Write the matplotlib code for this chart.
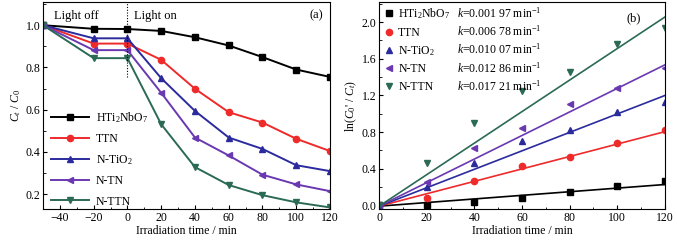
import numpy as np
import matplotlib
matplotlib.use("Agg")
import matplotlib.pyplot as plt
from matplotlib.ticker import MultipleLocator

plt.rcParams['font.family'] = ['Liberation Serif', 'DejaVu Serif']
plt.rcParams['mathtext.fontset'] = 'custom'
plt.rcParams['mathtext.rm'] = 'Liberation Serif'
plt.rcParams['mathtext.it'] = 'Liberation Serif:italic'
plt.rcParams['font.size'] = 8.5

# ========================
# data
# ========================
names = ["HTi$_2$NbO$_7$", "TTN", "N-TiO$_2$", "N-TN", "N-TTN"]
colors = ["#000000", "#ee2a2a", "#2b2b9e", "#6a38b0", "#2b6a55"]
markers_a = ["s", "o", "^", "<", "v"]

# (a) Ct/C0 vs time
t_a = [-50, -20, 0, 20, 40, 60, 80, 100, 120]
c_hti = [1.0, 0.983, 0.982, 0.973, 0.943, 0.904, 0.849, 0.790, 0.755]
c_ttn = [1.0, 0.913, 0.913, 0.836, 0.699, 0.588, 0.539, 0.462, 0.404]
c_ntio2 = [1.0, 0.938, 0.938, 0.749, 0.594, 0.468, 0.414, 0.337, 0.309]
c_ntn = [1.0, 0.882, 0.882, 0.680, 0.468, 0.383, 0.292, 0.246, 0.214]
c_nttn = [1.0, 0.844, 0.844, 0.531, 0.328, 0.243, 0.195, 0.161, 0.137]
series_a = [c_hti, c_ttn, c_ntio2, c_ntn, c_nttn]

# (b) ln(C0'/Ct) vs time
t_b = [0, 20, 40, 60, 80, 100, 120]
l_hti = [0.0, 0.0, 0.04, 0.08, 0.14, 0.21, 0.26]
l_ttn = [0.0, 0.08, 0.26, 0.43, 0.53, 0.68, 0.82]
l_ntio2 = [0.0, 0.20, 0.46, 0.70, 0.82, 1.02, 1.13]
l_ntn = [0.0, 0.25, 0.63, 0.84, 1.11, 1.28, 1.50]
l_nttn = [0.0, 0.46, 0.90, 1.25, 1.46, 1.76, 1.94]
series_b = [l_hti, l_ttn, l_ntio2, l_ntn, l_nttn]
k_vals = [0.00197, 0.00678, 0.01007, 0.01286, 0.01721]
k_labels = ["0.001 97", "0.006 78", "0.010 07", "0.012 86", "0.017 21"]

fig = plt.figure(figsize=(6.77, 2.49), dpi=100)
ax1 = fig.add_axes([0.0635, 0.161, 0.424, 0.831])
ax2 = fig.add_axes([0.560, 0.161, 0.422, 0.831])

# ---- panel (a)
for ys, nm, col, mk in zip(series_a, names, colors, markers_a):
    ax1.plot(t_a, ys, color=col, marker=mk, markersize=4.5, linewidth=1.4, label=nm)
ax1.plot([0, 0], [0.755, 1.12], color="black", linestyle=(0, (1, 1.5)), linewidth=0.8)
ax1.text(-30, 1.046, "Light off", ha="center", va="center", fontsize=9)
ax1.text(4, 1.046, "Light on", ha="left", va="center", fontsize=9)
ax1.text(112, 1.046, "(a)", ha="center", va="center", fontsize=9)
ax1.set_xlim(-50, 120)
ax1.set_ylim(0.13, 1.11)
ax1.xaxis.set_major_locator(MultipleLocator(20))
ax1.xaxis.set_minor_locator(MultipleLocator(10))
ax1.yaxis.set_major_locator(MultipleLocator(0.2))
ax1.yaxis.set_minor_locator(MultipleLocator(0.1))
ax1.set_xlabel("Irradiation time / min", labelpad=1)
ax1.set_ylabel("$C_t$ / $C_0$", labelpad=2)
ax1.legend(loc="lower left", bbox_to_anchor=(-0.01, -0.045), frameon=False,
           handlelength=3.2, handletextpad=0.6, labelspacing=0.7, fontsize=8.5)

# ---- panel (b)
tl = np.array([0, 120])
for ys, nm, col, mk, k in zip(series_b, names, colors, markers_a, k_vals):
    ax2.plot(t_b, ys, linestyle="none", marker=mk, markersize=4.5, color=col, label=nm)
    ax2.plot(tl, k * tl - 0.01, color=col, linewidth=1.2)
for i, kl in enumerate(k_labels):
    ax2.text(0.273, 0.947 - i * 0.0884, "$k$=" + kl + " min$^{-1}$",
             transform=ax2.transAxes, ha="left", va="center")
ax2.text(107, 2.04, "(b)", ha="center", va="center", fontsize=9)
ax2.set_xlim(0, 120)
ax2.set_ylim(-0.04, 2.22)
ax2.xaxis.set_major_locator(MultipleLocator(20))
ax2.xaxis.set_minor_locator(MultipleLocator(10))
ax2.yaxis.set_major_locator(MultipleLocator(0.4))
ax2.yaxis.set_minor_locator(MultipleLocator(0.2))
ax2.set_xlabel("Irradiation time / min", labelpad=1)
ax2.set_ylabel("ln($C_0$' / $C_t$)", labelpad=2)
ax2.legend(loc="upper left", bbox_to_anchor=(-0.02, 1.03), frameon=False,
           handlelength=0.8, handletextpad=0.4, labelspacing=0.46, fontsize=8.5)

for ax in (ax1, ax2):
    ax.tick_params(which="both", direction="in", labelsize=8.5, pad=2)
    ax.tick_params(which="major", length=3)
    ax.tick_params(which="minor", length=1.8)

plt.savefig("out.png", dpi=100)
